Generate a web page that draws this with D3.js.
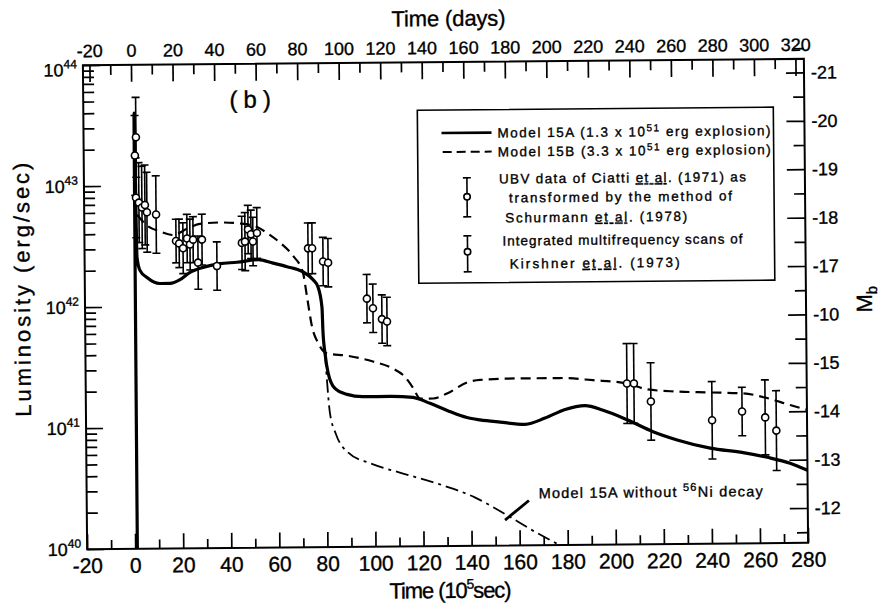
<!DOCTYPE html>
<html><head><meta charset="utf-8">
<script src="https://cdn.jsdelivr.net/npm/d3@7/dist/d3.min.js"></script>
<style>
body{margin:0;background:#fff;}
svg{display:block;}
text{font-family:"Liberation Sans",Arial,sans-serif;fill:#000;stroke:#000;stroke-width:0.35px;}
</style></head><body>
<svg id="chart" width="884" height="608"></svg>
<script>
// ---------------- DATA ----------------
const timeTicks = d3.range(-20, 281, 20);          // 10^5 s, labelled
const timeMinor = d3.range(-10, 281, 20);
const dayTicks = d3.range(-20, 321, 20);           // days, labelled
const dayMinor = d3.range(-10, 321, 20);
const lumDecades = [40, 41, 42, 43, 44];
const magTickValues = [-21, -20, -19, -18, -17, -16, -15, -14, -13, -12];
const magTickLabels = ["-21", "-20", "-19", "-18", "-17", "-10", "-15", "-14", "-13", "-12"];
const magAt1e44 = -21.28;
const secPerDay = 0.864; // 10^5 s per day

// Model 15A (solid)
const m15A_t = [0.9, 1.1, 1.8, 3.0, 5.9, 11.3, 15.5, 19.6, 23.8, 29.2, 36.3, 43.4, 52.2, 58.4, 64.2, 70.4, 75.0, 77.0, 78.6, 78.9, 79.7, 80.9, 83.7, 88.7, 95.3, 106.6, 116.1, 123.2, 130.3, 138.5, 143.9, 152.3, 162.7, 171.0, 179.4, 187.7, 195.2, 205.2, 215.9, 225.9, 239.6, 253.3, 263.3, 272.8, 280];
const m15A_logL = [40.0, 43.6, 42.41, 42.30, 42.24, 42.19, 42.19, 42.22, 42.28, 42.32, 42.35, 42.36, 42.38, 42.35, 42.32, 42.28, 42.21, 42.15, 41.98, 41.79, 41.60, 41.44, 41.31, 41.26, 41.24, 41.24, 41.23, 41.18, 41.12, 41.06, 41.04, 41.02, 41.00, 41.05, 41.12, 41.15, 41.11, 41.03, 40.93, 40.86, 40.79, 40.75, 40.71, 40.66, 40.60];

// Model 15B (dashed)
const m15B_t = [2.0, 6.1, 11.5, 16.9, 22.7, 28.1, 36.5, 44.8, 51.9, 56.0, 61.3, 66.7, 70.8, 72.4, 74.4, 76.8, 80.5, 88.8, 99.6, 107.9, 112.9, 116.2, 119.1, 124.5, 130.3, 138.7, 144.1, 160.8, 177.4, 191.1, 205.2, 213.6, 226.0, 239.7, 253.5, 263.4, 273.0, 280];
const m15B_logL = [42.76, 42.67, 42.62, 42.59, 42.64, 42.68, 42.69, 42.68, 42.65, 42.60, 42.52, 42.41, 42.27, 42.07, 41.82, 41.69, 41.60, 41.58, 41.53, 41.47, 41.40, 41.31, 41.22, 41.22, 41.26, 41.35, 41.37, 41.38, 41.38, 41.36, 41.33, 41.28, 41.26, 41.25, 41.24, 41.20, 41.14, 41.10];

// Model 15A without 56Ni decay (dash-dot)
const noNi_t = [79.7, 80.4, 81.5, 84.0, 88.9, 98.0, 110.4, 127.0, 141.5, 154.0, 166.5, 178.4];
const noNi_logL = [41.60, 41.38, 41.11, 40.93, 40.78, 40.69, 40.61, 40.51, 40.40, 40.26, 40.11, 39.98];

// Observations with error bars (dex)
const obs_t = [1.8, 1.3, 1.6, 2.8, 4.05, 5.3, 6.1, 9.9, 18.1, 19.4, 21.0, 22.7, 23.9, 25.2, 27.2, 28.9, 35.05, 45.5, 46.8, 48.1, 49.3, 50.1, 51.8, 73.0, 74.7, 79.2, 81.3, 97.3, 99.8, 103.5, 105.6, 205.2, 208.1, 215.1, 240.5, 253.0, 262.6, 267.2];
const obs_logL = [43.40, 43.25, 42.90, 42.86, 42.82, 42.84, 42.78, 42.76, 42.54, 42.52, 42.48, 42.56, 42.51, 42.55, 42.36, 42.55, 42.33, 42.52, 42.53, 42.63, 42.59, 42.53, 42.60, 42.47, 42.47, 42.36, 42.35, 42.05, 41.97, 41.88, 41.86, 41.33, 41.33, 41.18, 41.02, 41.09, 41.04, 40.93];
const obs_err = [0.33, 0.33, 0.33, 0.33, 0.34, 0.33, 0.33, 0.32, 0.18, 0.20, 0.21, 0.20, 0.21, 0.19, 0.22, 0.21, 0.20, 0.22, 0.24, 0.20, 0.20, 0.20, 0.21, 0.21, 0.21, 0.20, 0.20, 0.20, 0.20, 0.20, 0.20, 0.33, 0.33, 0.32, 0.32, 0.20, 0.31, 0.33];

// annotation anchor (data coords)
const annotAnchor = {t: 154.0, logL: 40.21};
const annotTail = {t: 164, logL: 40.37};

// ---------------- CHART ----------------
const svg = d3.select("#chart");
svg.append("rect").attr("width", 884).attr("height", 608).attr("fill", "#fff");
const g = svg.append("g").attr("transform", "rotate(-0.5,446,304)");

const L = 85, R = 806, T = 62, B = 546;
const x = d3.scaleLinear().domain([-20, 280]).range([L, R]);
const xd = d3.scaleLinear().domain([-20 / secPerDay, 280 / secPerDay]).range([L, R]);
const y = d3.scaleLog().domain([1e40, 1e44]).range([B, T]);
const ym = d3.scaleLinear().domain([magAt1e44, magAt1e44 + 10]).range([T, B]);
const P = v => Math.pow(10, v);

function styleAxis(sel, w) {
  sel.select(".domain").remove();
  sel.selectAll(".tick line").attr("stroke", "#000").attr("stroke-width", w || 1.7);
  sel.selectAll("text").style("font-family", '"Liberation Sans",Arial,sans-serif');
}

// bottom axis
const gb = g.append("g").attr("transform", `translate(0,${B})`);
gb.call(d3.axisBottom(x).tickValues(timeTicks).tickSize(-15).tickSizeOuter(0).tickPadding(9).tickFormat(d => String(d)));
styleAxis(gb);
gb.selectAll("text").attr("font-size", 21).attr("fill", "#000");
const gbm = g.append("g").attr("transform", `translate(0,${B})`);
gbm.call(d3.axisBottom(x).tickValues(timeMinor).tickSize(-9).tickSizeOuter(0).tickFormat(""));
styleAxis(gbm);

// top axis (days)
const gt = g.append("g").attr("transform", `translate(0,${T})`);
gt.call(d3.axisTop(xd).tickValues(dayTicks).tickSize(-17).tickSizeOuter(0).tickPadding(8).tickFormat(d => String(d)));
styleAxis(gt);
gt.selectAll("text").attr("font-size", 18).attr("fill", "#000");
const gtm = g.append("g").attr("transform", `translate(0,${T})`);
gtm.call(d3.axisTop(xd).tickValues(dayMinor).tickSize(-10).tickSizeOuter(0).tickFormat(""));
styleAxis(gtm);

// left axis (log)
const lumMinor = [];
lumDecades.slice(0, -1).forEach(d => { for (let m = 2; m <= 9; m++) lumMinor.push(m * P(d)); });
const gl = g.append("g").attr("transform", `translate(${L},0)`);
gl.call(d3.axisLeft(y).tickValues(lumDecades.map(P)).tickSize(-17).tickSizeOuter(0).tickFormat(""));
styleAxis(gl);
const glm = g.append("g").attr("transform", `translate(${L},0)`);
glm.call(d3.axisLeft(y).tickValues(lumMinor).tickSize(-11).tickSizeOuter(0).tickFormat(""));
styleAxis(glm);
lumDecades.forEach(d => {
  const t = g.append("text").attr("x", 79).attr("y", y(P(d)) + (d === 44 ? 11 : 6.5)).attr("text-anchor", "end").attr("font-size", 18);
  t.append("tspan").text("10");
  t.append("tspan").attr("dy", -8).attr("font-size", 12).text(String(d));
});

// right axis (Mb)
const gr = g.append("g").attr("transform", `translate(${R},0)`);
gr.call(d3.axisRight(ym).tickValues(magTickValues).tickSize(-18).tickSizeOuter(0).tickPadding(7).tickFormat((d, i) => magTickLabels[i]));
styleAxis(gr);
gr.selectAll("text").attr("font-size", 18).attr("fill", "#000");
const grm = g.append("g").attr("transform", `translate(${R},0)`);
grm.call(d3.axisRight(ym).tickValues(magTickValues.map(v => v - 0.5).concat([-11.5])).tickSize(-11).tickSizeOuter(0).tickFormat(""));
styleAxis(grm);

// frame
g.append("rect").attr("x", L).attr("y", T).attr("width", R - L).attr("height", B - T)
  .attr("fill", "none").attr("stroke", "#000").attr("stroke-width", 2);

// clip
svg.append("defs").append("clipPath").attr("id", "plotclip").append("rect")
  .attr("x", L).attr("y", T).attr("width", R - L).attr("height", B - T);
const pg = g.append("g").attr("clip-path", "url(#plotclip)");

const line = d3.line().x(d => x(d[0])).y(d => y(P(d[1]))).curve(d3.curveMonotoneX);
const zip = (a, b) => a.map((v, i) => [v, b[i]]);

pg.append("path").attr("d", line(zip(noNi_t, noNi_logL))).attr("fill", "none")
  .attr("stroke", "#000").attr("stroke-width", 1.8).attr("stroke-dasharray", "13,5,3,5");
pg.append("path").attr("d", line(zip(m15B_t, m15B_logL))).attr("fill", "none")
  .attr("stroke", "#000").attr("stroke-width", 2.2).attr("stroke-dasharray", "10,6");
pg.append("path").attr("d", line(zip(m15A_t, m15A_logL))).attr("fill", "none")
  .attr("stroke", "#000").attr("stroke-width", 3.2).attr("stroke-linejoin", "round");

// error bars
const obs = obs_t.map((t, i) => ({t, v: obs_logL[i], e: obs_err[i]}));
const eb = pg.append("g").attr("stroke", "#000").attr("stroke-width", 1.6);
obs.forEach(o => {
  const cx = x(o.t), y1 = y(P(o.v + o.e)), y2 = y(P(o.v - o.e));
  eb.append("line").attr("x1", cx).attr("x2", cx).attr("y1", y1).attr("y2", y2);
  eb.append("line").attr("x1", cx - 4).attr("x2", cx + 4).attr("y1", y1).attr("y2", y1);
  eb.append("line").attr("x1", cx - 4).attr("x2", cx + 4).attr("y1", y2).attr("y2", y2);
});
obs.forEach(o => {
  eb.append("circle").attr("cx", x(o.t)).attr("cy", y(P(o.v))).attr("r", 3.5).attr("fill", "#fff");
});

// annotation
g.append("line").attr("x1", x(annotAnchor.t)).attr("y1", y(P(annotAnchor.logL)))
  .attr("x2", x(annotTail.t)).attr("y2", y(P(annotTail.logL)))
  .attr("stroke", "#000").attr("stroke-width", 2.8);
{
  const t = g.append("text").attr("x", 537).attr("y", 499).attr("font-size", 14.5)
    .attr("textLength", 224).attr("lengthAdjust", "spacing");
  t.append("tspan").text("Model 15A without ");
  t.append("tspan").attr("dy", -6).attr("font-size", 11).text("56");
  t.append("tspan").attr("dy", 6).text("Ni decay");
}

// (b)
g.append("text").attr("x", 255).attr("y", 106).attr("text-anchor", "middle")
  .attr("font-size", 24).attr("letter-spacing", 6).text("(b)");

// legend
const lg = g.append("g");
lg.append("rect").attr("x", 419).attr("y", 110).attr("width", 356).attr("height", 173)
  .attr("fill", "#fff").attr("stroke", "#000").attr("stroke-width", 1.6);
lg.append("line").attr("x1", 443).attr("x2", 493).attr("y1", 133).attr("y2", 133)
  .attr("stroke", "#000").attr("stroke-width", 2.6);
lg.append("line").attr("x1", 444).attr("x2", 493).attr("y1", 152).attr("y2", 152)
  .attr("stroke", "#000").attr("stroke-width", 2).attr("stroke-dasharray", "9,5");
function legSymbol(cx, y1, y2, cy) {
  const s = lg.append("g").attr("stroke", "#000").attr("stroke-width", 1.6);
  s.append("line").attr("x1", cx).attr("x2", cx).attr("y1", y1).attr("y2", y2);
  s.append("line").attr("x1", cx - 4).attr("x2", cx + 4).attr("y1", y1).attr("y2", y1);
  s.append("line").attr("x1", cx - 4).attr("x2", cx + 4).attr("y1", y2).attr("y2", y2);
  s.append("circle").attr("cx", cx).attr("cy", cy).attr("r", 3.2).attr("fill", "#fff");
}
legSymbol(468, 178, 217, 197);
legSymbol(468, 236, 272, 252);
function legText(xp, yp, len, parts) {
  const t = lg.append("text").attr("x", xp).attr("y", yp).attr("font-size", 13.5)
    .attr("textLength", len).attr("lengthAdjust", "spacing");
  parts.forEach(p => {
    const s = t.append("tspan").text(p.t);
    if (p.sup) s.attr("dy", -5).attr("font-size", 10);
    if (p.back) s.attr("dy", 5);
    if (p.u) s.style("text-decoration", "underline");
  });
}
legText(499, 138, 273, [{t: "Model 15A  (1.3 x 10"}, {t: "51", sup: true}, {t: " erg explosion)", back: true}]);
legText(499, 157, 273, [{t: "Model 15B (3.3 x 10"}, {t: "51", sup: true}, {t: " erg explosion)", back: true}]);
legText(500, 184, 247, [{t: "UBV data of Ciatti  "}, {t: "et al", u: true}, {t: ". (1971) as"}]);
legText(510, 203, 223, [{t: "transformed by the method of"}]);
legText(506, 223, 182, [{t: "Schurmann "}, {t: "et al", u: true}, {t: ". (1978)"}]);
legText(503, 246, 240, [{t: "Integrated multifrequency scans of"}]);
legText(510, 269, 170, [{t: "Kirshner "}, {t: "et al", u: true}, {t: ". (1973)"}]);

// axis titles
g.append("text").attr("x", 451).attr("y", 26).attr("text-anchor", "middle").attr("font-size", 22)
  .attr("textLength", 114).attr("lengthAdjust", "spacing").text("Time (days)");
{
  const t = g.append("text").attr("x", 448).attr("y", 598).attr("text-anchor", "middle").attr("font-size", 22)
    .attr("textLength", 122).attr("lengthAdjust", "spacing");
  t.append("tspan").text("Time (10");
  t.append("tspan").attr("dy", -9).attr("font-size", 14).text("5");
  t.append("tspan").attr("dy", 9).text("sec)");
}
g.append("text").attr("transform", "translate(30,286) rotate(-90)").attr("text-anchor", "middle")
  .attr("font-size", 22).attr("textLength", 254).attr("lengthAdjust", "spacing").text("Luminosity (erg/sec)");
{
  const t = g.append("text").attr("transform", "translate(872,303) rotate(-90)").attr("text-anchor", "middle")
    .attr("font-size", 22);
  t.append("tspan").text("M");
  t.append("tspan").attr("dy", 5).attr("font-size", 15).text("b");
}
</script>
</body></html>
